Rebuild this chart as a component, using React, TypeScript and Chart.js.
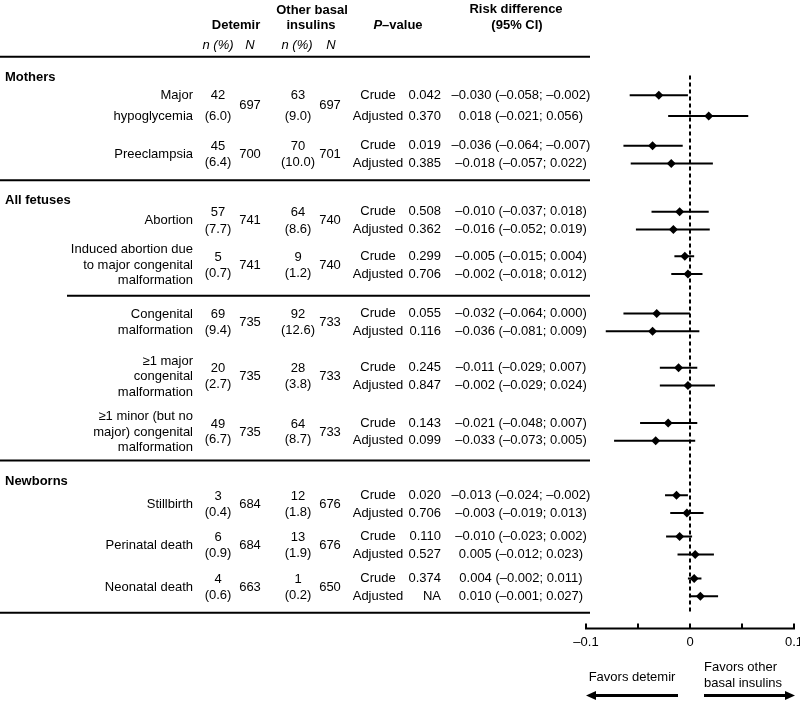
import React, { useEffect, useRef } from "react";
import { Chart, registerables } from "chart.js";

Chart.register(...registerables);

// ---------- data ----------
const outcomes = [
  ["Major", "hypoglycemia"],
  ["Preeclampsia"],
  ["Abortion"],
  ["Induced abortion due", "to major congenital", "malformation"],
  ["Congenital", "malformation"],
  ["≥1 major", "congenital", "malformation"],
  ["≥1 minor (but no", "major) congenital", "malformation"],
  ["Stillbirth"],
  ["Perinatal death"],
  ["Neonatal death"],
];
const sections = ["Mothers", "All fetuses", "Newborns"];
const detEvents = [42, 45, 57, 5, 69, 20, 49, 3, 6, 4];
const detPct = ["6.0", "6.4", "7.7", "0.7", "9.4", "2.7", "6.7", "0.4", "0.9", "0.6"];
const detTotal = [697, 700, 741, 741, 735, 735, 735, 684, 684, 663];
const othEvents = [63, 70, 64, 9, 92, 28, 64, 12, 13, 1];
const othPct = ["9.0", "10.0", "8.6", "1.2", "12.6", "3.8", "8.7", "1.8", "1.9", "0.2"];
const othTotal = [697, 701, 740, 740, 733, 733, 733, 676, 676, 650];
const pCrude = ["0.042", "0.019", "0.508", "0.299", "0.055", "0.245", "0.143", "0.020", "0.110", "0.374"];
const pAdj = ["0.370", "0.385", "0.362", "0.706", "0.116", "0.847", "0.099", "0.706", "0.527", "NA"];
const rdCrude = [-0.030, -0.036, -0.010, -0.005, -0.032, -0.011, -0.021, -0.013, -0.010, 0.004];
const loCrude = [-0.058, -0.064, -0.037, -0.015, -0.064, -0.029, -0.048, -0.024, -0.023, -0.002];
const hiCrude = [-0.002, -0.007, 0.018, 0.004, 0.000, 0.007, 0.007, -0.002, 0.002, 0.011];
const rdAdj = [0.018, -0.018, -0.016, -0.002, -0.036, -0.002, -0.033, -0.003, 0.005, 0.010];
const loAdj = [-0.021, -0.057, -0.052, -0.018, -0.081, -0.029, -0.073, -0.019, -0.012, -0.001];
const hiAdj = [0.056, 0.022, 0.019, 0.012, 0.009, 0.024, 0.005, 0.013, 0.023, 0.027];
const xTicks = [-0.1, -0.05, 0, 0.05, 0.1];
const xTickLabels = ["–0.1", "", "0", "", "0.1"];

// ---------- layout (vertical slots, in y-scale units) ----------
const W = 800;
const H = 705;
const rowCenter = [102.5, 152, 219, 264, 322, 377, 433, 506, 548, 590.5];
const rowHalf = [10.5, 9, 9, 9, 9, 9, 9, 9, 9, 9];
const numHalf = [10.5, 8, 8.5, 8, 8, 8, 8, 8, 8, 8];
const labelLineH = [21, 15.7, 15.7, 15.7, 15.7, 15.7, 15.7, 15.7, 15.7, 15.7];
const sectionY = [74, 198, 483];
const ruleY = [53, 178, 295, 462, 616];
const ruleX0 = [0, 0, 67, 0, 0];

const FONT = '"Liberation Sans", Arial, Helvetica, sans-serif';
const fmt = (v: number) => (v < 0 ? "–" + Math.abs(v).toFixed(3) : v.toFixed(3));

const tablePlugin = {
  id: "forestTable",
  beforeDatasetsDraw(chart: any) {
    const ctx = chart.ctx;
    const xs = chart.scales.x;
    const ys = chart.scales.y;
    const x0 = xs.getPixelForValue(0);
    ctx.save();
    ctx.strokeStyle = "#000";
    ctx.lineWidth = 2;
    ctx.setLineDash([4, 3]);
    ctx.beginPath();
    ctx.moveTo(x0, ys.getPixelForValue(72));
    ctx.lineTo(x0, ys.getPixelForValue(617));
    ctx.stroke();
    ctx.restore();
  },
  afterDraw(chart: any) {
    const ctx = chart.ctx;
    const xs = chart.scales.x;
    const ys = chart.scales.y;
    const Y = (v: number) => ys.getPixelForValue(v);
    ctx.save();
    ctx.fillStyle = "#000";
    ctx.strokeStyle = "#000";
    ctx.textBaseline = "middle";
    const norm = "13px " + FONT;
    const bold = "bold 13px " + FONT;
    const ital = "italic 13px " + FONT;
    const text = (s: string, x: number, y: number, align: CanvasTextAlign, font = norm) => {
      ctx.font = font;
      ctx.textAlign = align;
      ctx.fillText(s, x, Y(y));
    };

    // header
    text("Detemir", 236, 21, "center", bold);
    text("Other basal", 312, 6, "center", bold);
    text("insulins", 311, 21, "center", bold);
    text("n (%)", 218, 41, "center", ital);
    text("N", 250, 41, "center", ital);
    text("n (%)", 297, 41, "center", ital);
    text("N", 331, 41, "center", ital);
    // P–value with italic P
    ctx.font = "italic bold 13px " + FONT;
    const wP = ctx.measureText("P").width;
    ctx.font = bold;
    const wR = ctx.measureText("–value").width;
    const pStart = 398 - (wP + wR) / 2;
    text("P", pStart, 21, "left", "italic bold 13px " + FONT);
    text("–value", pStart + wP, 21, "left", bold);
    text("Risk difference", 516, 5, "center", bold);
    text("(95% CI)", 517, 21, "center", bold);

    // rules
    ctx.lineWidth = 2;
    ruleY.forEach((ry, i) => {
      ctx.beginPath();
      ctx.moveTo(ruleX0[i], Y(ry));
      ctx.lineTo(590, Y(ry));
      ctx.stroke();
    });

    // sections
    sections.forEach((s, i) => text(s, 5, sectionY[i], "left", bold));

    // rows
    outcomes.forEach((lines, i) => {
      const c = rowCenter[i];
      const lh = labelLineH[i];
      const top = c - ((lines.length - 1) * lh) / 2;
      lines.forEach((ln, k) => text(ln, 193, top + k * lh, "right"));
      const nh = numHalf[i];
      text(String(detEvents[i]), 218, c - nh, "center");
      text("(" + detPct[i] + ")", 218, c + nh, "center");
      text(String(detTotal[i]), 250, c, "center");
      text(String(othEvents[i]), 298, c - nh, "center");
      text("(" + othPct[i] + ")", 298, c + nh, "center");
      text(String(othTotal[i]), 330, c, "center");
      const yc = c - rowHalf[i];
      const ya = c + rowHalf[i];
      text("Crude", 378, yc, "center");
      text("Adjusted", 378, ya, "center");
      text(pCrude[i], 441, yc, "right");
      text(pAdj[i], 441, ya, "right");
      text(`${fmt(rdCrude[i])} (${fmt(loCrude[i])}; ${fmt(hiCrude[i])})`, 521, yc, "center");
      text(`${fmt(rdAdj[i])} (${fmt(loAdj[i])}; ${fmt(hiAdj[i])})`, 521, ya, "center");
    });

    // x axis
    const axY = Y(632);
    const xl = xs.getPixelForValue(xTicks[0]);
    const xr = xs.getPixelForValue(xTicks[xTicks.length - 1]);
    ctx.lineWidth = 2;
    ctx.beginPath();
    ctx.moveTo(xl - 1, axY);
    ctx.lineTo(xr + 1, axY);
    ctx.stroke();
    xTicks.forEach((t, i) => {
      const px = xs.getPixelForValue(t);
      ctx.beginPath();
      ctx.moveTo(px, axY);
      ctx.lineTo(px, axY - 5);
      ctx.stroke();
      if (xTickLabels[i]) text(xTickLabels[i], px, 646, "center");
    });

    // favours labels and arrows
    const x0 = xs.getPixelForValue(0);
    text("Favors detemir", 632, 682, "center");
    text("Favors other", 704, 672, "left");
    text("basal insulins", 704, 688, "left");
    const arrow = (from: number, to: number, y: number) => {
      const dir = Math.sign(to - from);
      ctx.lineWidth = 3;
      ctx.beginPath();
      ctx.moveTo(from, Y(y));
      ctx.lineTo(to - dir * 8, Y(y));
      ctx.stroke();
      ctx.beginPath();
      ctx.moveTo(to, Y(y));
      ctx.lineTo(to - dir * 10, Y(y) - 4.5);
      ctx.lineTo(to - dir * 10, Y(y) + 4.5);
      ctx.closePath();
      ctx.fill();
    };
    arrow(x0 - 12, xl, 700);
    arrow(x0 + 14, xr + 1, 700);
    ctx.restore();
  },
};

export default function App() {
  const ref = useRef<HTMLCanvasElement | null>(null);
  useEffect(() => {
    document.body.style.margin = "0";
    const canvas = ref.current;
    if (!canvas) return;
    const ciDatasets: any[] = [];
    outcomes.forEach((_, i) => {
      const yc = rowCenter[i] - rowHalf[i];
      const ya = rowCenter[i] + rowHalf[i];
      ciDatasets.push({
        type: "line",
        data: [{ x: loCrude[i], y: yc }, { x: hiCrude[i], y: yc }],
        borderColor: "#000",
        borderWidth: 2,
        pointRadius: 0,
        showLine: true,
      });
      ciDatasets.push({
        type: "line",
        data: [{ x: loAdj[i], y: ya }, { x: hiAdj[i], y: ya }],
        borderColor: "#000",
        borderWidth: 2,
        pointRadius: 0,
        showLine: true,
      });
    });
    const points: any[] = [];
    outcomes.forEach((_, i) => {
      points.push({ x: rdCrude[i], y: rowCenter[i] - rowHalf[i] });
      points.push({ x: rdAdj[i], y: rowCenter[i] + rowHalf[i] });
    });
    const chart = new Chart(canvas, {
      type: "scatter",
      data: {
        datasets: [
          {
            data: points,
            pointStyle: "rectRot",
            pointRadius: 4.5,
            backgroundColor: "#000",
            borderColor: "#000",
            borderWidth: 0,
          },
          ...ciDatasets,
        ],
      },
      options: {
        animation: false,
        responsive: false,
        devicePixelRatio: 1,
        events: [],
        layout: { padding: { left: 586, right: W - 794, top: 0, bottom: 0 } },
        plugins: { legend: { display: false }, tooltip: { enabled: false }, title: { display: false } },
        scales: {
          x: { type: "linear", min: -0.1, max: 0.1, display: false },
          y: { type: "linear", min: 0, max: H, reverse: true, display: false },
        },
      },
      plugins: [tablePlugin],
    } as any);
    return () => chart.destroy();
  }, []);
  return (
    <div style={{ width: W, height: H, background: "#fff" }}>
      <canvas ref={ref} width={W} height={H} style={{ display: "block" }} />
    </div>
  );
}
